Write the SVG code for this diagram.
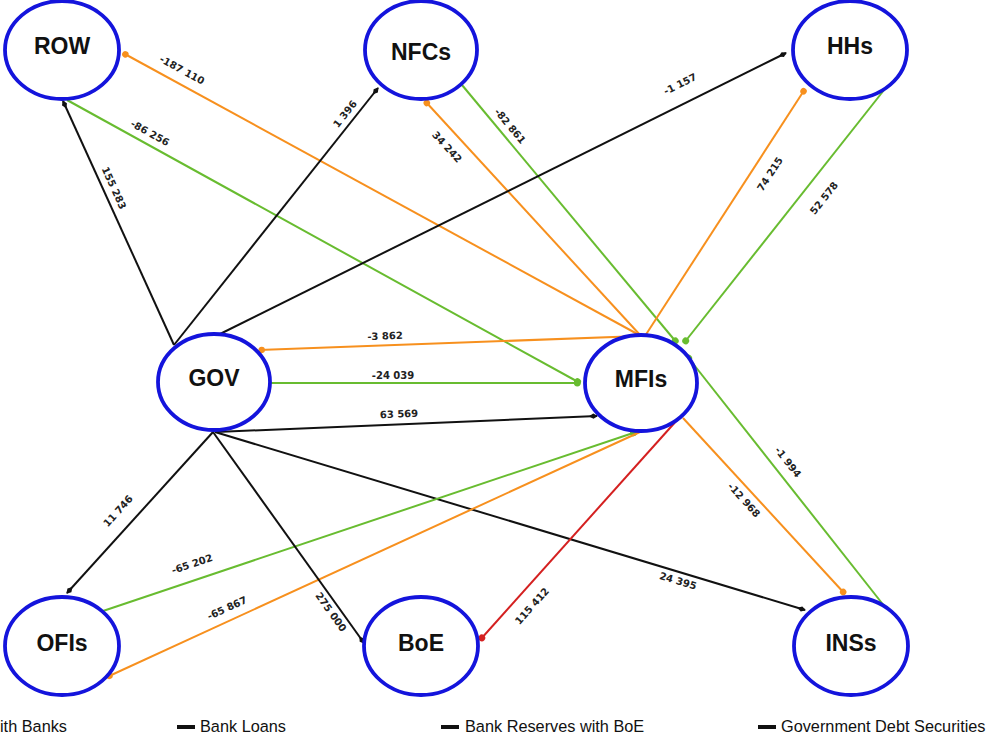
<svg xmlns="http://www.w3.org/2000/svg" width="992" height="738" viewBox="0 0 992 738">
<style>
.node ellipse{fill:#fff;stroke:#1414dc;stroke-width:3.8}
.node text{font-family:"Liberation Sans",Arial,sans-serif;font-weight:bold;font-size:23px;fill:#111;text-anchor:middle}
.e{fill:none;stroke-width:2}
.k{stroke:#111;marker-end:url(#mk)}
.o{stroke:#f7901e;marker-end:url(#mo)}
.g{stroke:#68bc30;marker-end:url(#mg)}
.r{stroke:#d42020;marker-end:url(#mr)}
.lbl{font-family:"DejaVu Sans",sans-serif;font-weight:bold;font-size:10px;fill:#222;text-anchor:middle;dominant-baseline:central}
.leg{font-family:"Liberation Sans",Arial,sans-serif;font-size:16.3px;fill:#111}
</style>
<defs>
<marker id="mk" viewBox="0 0 10 10" refX="9" refY="5" markerWidth="9" markerHeight="9" markerUnits="userSpaceOnUse" orient="auto"><path d="M0,5 L5,2 L10,5 L5,8 z" fill="#111"/></marker>
<marker id="mo" viewBox="0 0 10 10" refX="8" refY="5" markerWidth="9" markerHeight="9" markerUnits="userSpaceOnUse" orient="auto"><circle cx="5" cy="5" r="3.6" fill="#f7901e"/></marker>
<marker id="mg" viewBox="0 0 10 10" refX="8" refY="5" markerWidth="9" markerHeight="9" markerUnits="userSpaceOnUse" orient="auto"><circle cx="5" cy="5" r="3.8" fill="#68bc30"/></marker>
<marker id="mr" viewBox="0 0 10 10" refX="8" refY="5" markerWidth="9" markerHeight="9" markerUnits="userSpaceOnUse" orient="auto"><circle cx="5" cy="5" r="3.8" fill="#d42020"/></marker>
</defs>
<rect width="992" height="738" fill="#fff"/>
<g id="connectors">
<path class="e o" d="M641 336 L123 53"/>
<path class="e g" d="M67 100 L580 383"/>
<path class="e k" d="M174 345 L63 101"/>
<path class="e k" d="M174 345 L378 88"/>
<path class="e o" d="M641 336 L425 101"/>
<path class="e g" d="M462 85 L677 343"/>
<path class="e k" d="M218 335 L786 53"/>
<path class="e o" d="M645 336 L805 89"/>
<path class="e g" d="M888 85 L684 343"/>
<path class="e o" d="M641 336 L259 350"/>
<path class="e g" d="M270 383 L580 383"/>
<path class="e k" d="M216 432 L597 416"/>
<path class="e g" d="M885 607 L687 356"/>
<path class="e o" d="M683 418 L845 594"/>
<path class="e k" d="M215 432 L805 610"/>
<path class="e r" d="M678 419 L480 640"/>
<path class="e k" d="M213 432 L67 593"/>
<path class="e g" d="M103 611 L636 432"/>
<path class="e o" d="M640 432 L107 677"/>
<path class="e k" d="M213 432 L364 643"/>
<text class="lbl" transform="translate(182,70) rotate(28.6)">-187 110</text>
<text class="lbl" transform="translate(150,133) rotate(28.8)">-86 256</text>
<text class="lbl" transform="translate(114,188) rotate(65.6)">155 283</text>
<text class="lbl" transform="translate(345,114) rotate(-51.7)">1 396</text>
<text class="lbl" transform="translate(447,147) rotate(47.5)">34 242</text>
<text class="lbl" transform="translate(510,126) rotate(50.3)">-82 861</text>
<text class="lbl" transform="translate(680,84) rotate(-26.4)">-1 157</text>
<text class="lbl" transform="translate(770,174) rotate(-57)">74 215</text>
<text class="lbl" transform="translate(824,198) rotate(-51.5)">52 578</text>
<text class="lbl" transform="translate(385,336) rotate(-2.1)">-3 862</text>
<text class="lbl" transform="translate(393,375)">-24 039</text>
<text class="lbl" transform="translate(399,414) rotate(-2.4)">63 569</text>
<text class="lbl" transform="translate(788,462) rotate(51.9)">-1 994</text>
<text class="lbl" transform="translate(744,500) rotate(47.5)">-12 968</text>
<text class="lbl" transform="translate(678,581) rotate(16.8)">24 395</text>
<text class="lbl" transform="translate(532,606) rotate(-48)">115 412</text>
<text class="lbl" transform="translate(118,511) rotate(-47.8)">11 746</text>
<text class="lbl" transform="translate(192,564) rotate(-18.6)">-65 202</text>
<text class="lbl" transform="translate(227,608) rotate(-24.7)">-65 867</text>
<text class="lbl" transform="translate(331,612) rotate(54.6)">275 000</text>
</g>
<g id="ROW" class="node"><ellipse cx="62" cy="50" rx="57" ry="49"/><text x="62" y="54">ROW</text></g>
<g id="NFCs" class="node"><ellipse cx="421" cy="50" rx="56" ry="49"/><text x="421" y="60">NFCs</text></g>
<g id="HHs" class="node"><ellipse cx="850" cy="50" rx="57" ry="49"/><text x="850" y="54">HHs</text></g>
<g id="GOV" class="node"><ellipse cx="214" cy="382" rx="56" ry="48"/><text x="214" y="386">GOV</text></g>
<g id="MFIs" class="node"><ellipse cx="641" cy="383" rx="56" ry="48"/><text x="641" y="387">MFIs</text></g>
<g id="OFIs" class="node"><ellipse cx="62" cy="646" rx="57" ry="49"/><text x="62" y="651">OFIs</text></g>
<g id="BoE" class="node"><ellipse cx="421" cy="646" rx="57" ry="49"/><text x="421" y="651">BoE</text></g>
<g id="INSs" class="node"><ellipse cx="851" cy="646" rx="57" ry="49"/><text x="851" y="651">INSs</text></g>
<g id="legend">
<text class="leg" x="0" y="732">ith Banks</text>
<rect x="177" y="725" width="18" height="4" fill="#111"/>
<text class="leg" x="200" y="732">Bank Loans</text>
<rect x="441" y="725" width="18" height="4" fill="#111"/>
<text class="leg" x="465" y="732">Bank Reserves with BoE</text>
<rect x="758" y="725" width="18" height="4" fill="#111"/>
<text class="leg" x="781" y="732">Government Debt Securities</text>
</g>
</svg>
